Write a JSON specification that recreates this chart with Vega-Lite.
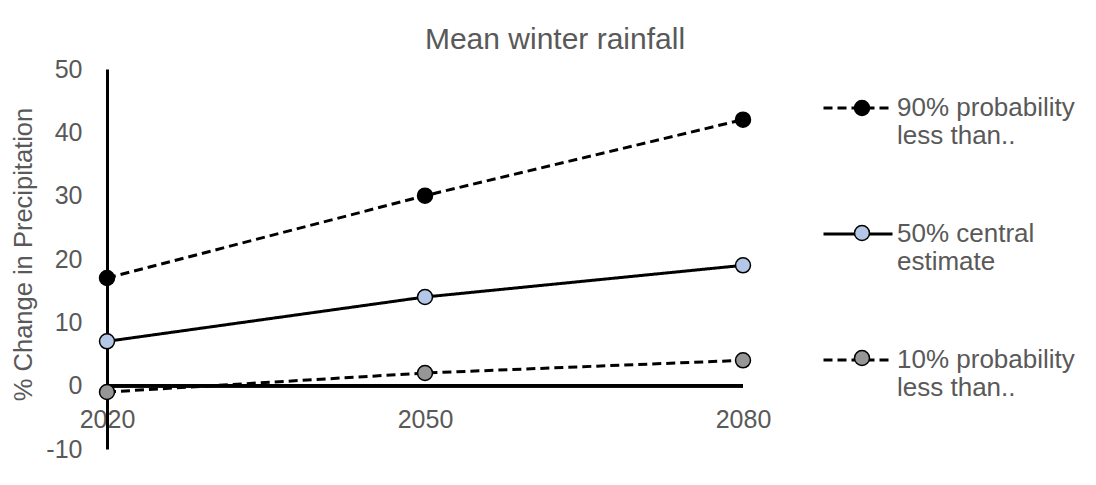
{
  "$schema": "https://vega.github.io/schema/vega-lite/v6.json",
  "autosize": {"type": "none"},
  "width": 636,
  "height": 380,
  "padding": {"left": 107, "top": 69, "right": 353, "bottom": 36},
  "background": "white",
  "config": {"view": {"stroke": null}, "font": "Liberation Sans"},
  "title": {
    "text": "Mean winter rainfall",
    "fontSize": 30,
    "fontWeight": "normal",
    "color": "#595959",
    "font": "Liberation Sans",
    "anchor": "middle",
    "dx": 130,
    "offset": -28,
    "baseline": "bottom"
  },
  "data": {
    "values": [
      {"year": "2020", "series": "90% probability\nless than..", "value": 17},
      {"year": "2050", "series": "90% probability\nless than..", "value": 30},
      {"year": "2080", "series": "90% probability\nless than..", "value": 42},
      {"year": "2020", "series": "50% central\nestimate", "value": 7},
      {"year": "2050", "series": "50% central\nestimate", "value": 14},
      {"year": "2080", "series": "50% central\nestimate", "value": 19},
      {"year": "2020", "series": "10% probability\nless than..", "value": -1},
      {"year": "2050", "series": "10% probability\nless than..", "value": 2},
      {"year": "2080", "series": "10% probability\nless than..", "value": 4}
    ]
  },
  "layer": [
    {
      "mark": {"type": "rule", "color": "black", "strokeWidth": 3},
      "encoding": {"y": {"datum": 0, "type": "quantitative"}}
    },
    {
      "mark": {"type": "line", "color": "black", "strokeWidth": 3, "strokeCap": "butt"},
      "encoding": {
        "x": {
          "field": "year",
          "type": "ordinal",
          "scale": {"type": "point", "padding": 0},
          "axis": {
            "title": null,
            "domain": false,
            "ticks": false,
            "tickSize": 0,
            "grid": false,
            "labelAngle": 0,
            "labelFontSize": 25,
            "labelFont": "Liberation Sans",
            "labelColor": "#595959",
            "labelPadding": 22,
            "offset": -63.33
          }
        },
        "y": {
          "field": "value",
          "type": "quantitative",
          "scale": {"domain": [-10, 50], "nice": false},
          "axis": {
            "values": [-10, 0, 10, 20, 30, 40, 50],
            "labelExpr": "replace(datum.label, '\u2212', '-')",
            "title": "% Change in Precipitation",
            "titleFontSize": 25.5,
            "titleFontWeight": "normal",
            "titleFont": "Liberation Sans",
            "titleColor": "#595959",
            "titleX": -84,
            "titleY": 185,
            "titleAngle": 270,
            "titleBaseline": "middle",
            "titleAlign": "center",
            "labelFontSize": 25,
            "labelFont": "Liberation Sans",
            "labelColor": "#595959",
            "labelPadding": 25,
            "ticks": false,
            "tickSize": 0,
            "domainColor": "black",
            "domainWidth": 3,
            "gridColor": "#d9d9d9",
            "gridWidth": 1.5
          }
        },
        "strokeDash": {
          "field": "series",
          "type": "nominal",
          "scale": {
            "domain": ["90% probability\nless than..", "50% central\nestimate", "10% probability\nless than.."],
            "range": [[9, 5], [1, 0], [9, 5]]
          },
          "legend": {
            "title": null,
            "orient": "none",
            "legendX": 715,
            "legendY": 3,
            "padding": 0,
            "symbolType": "stroke",
            "symbolSize": 4761,
            "symbolStrokeWidth": 3,
            "symbolStrokeColor": "black",
            "labelFontSize": 26,
            "labelFont": "Liberation Sans",
            "labelColor": "#595959",
            "labelLineHeight": 31,
            "labelBaseline": "middle",
            "labelOffset": 3,
            "labelLimit": 400,
            "labelExpr": "split(datum.label, '\\n')",
            "rowPadding": 49
          }
        }
      }
    },
    {
      "mark": {"type": "point", "shape": "circle", "filled": true, "size": 225, "stroke": "black", "strokeWidth": 1.5, "opacity": 1},
      "encoding": {
        "x": {"field": "year", "type": "ordinal"},
        "y": {"field": "value", "type": "quantitative"},
        "fill": {
          "field": "series",
          "type": "nominal",
          "sort": "descending",
          "scale": {"range": ["#000000", "#b4c7e7", "#969696"]},
          "legend": {
            "title": null,
            "orient": "none",
            "legendX": 742,
            "legendY": 26,
            "padding": 0,
            "symbolType": "circle",
            "symbolSize": 225,
            "symbolStrokeColor": "black",
            "symbolStrokeWidth": 1.5,
            "symbolOpacity": 1,
            "labelFontSize": 26,
            "labelFont": "Liberation Sans",
            "labelLineHeight": 31,
            "labelBaseline": "middle",
            "labelOffset": 3,
            "labelLimit": 400,
            "labelOpacity": 0,
            "labelExpr": "[' ', ' ']",
            "rowPadding": 71
          }
        }
      }
    }
  ]
}
